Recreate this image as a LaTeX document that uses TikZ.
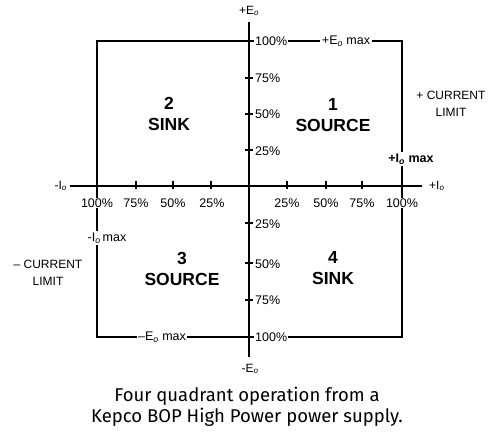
\documentclass[tikz,border=0pt]{standalone}
\usepackage{fontspec}
\setmainfont{Liberation Sans}
\newfontfamily\capfont{Fira Sans}
\usetikzlibrary{positioning}
\newcommand{\Eo}{E\textsubscript{\itshape o}}
\newcommand{\Io}{I\textsubscript{\itshape o}}
\tikzset{
  frame/.style={line width=2.8pt},
  axis/.style={line width=2.6pt},
  tickmark/.style={line width=1.4pt},
  pct/.style={font=\fontsize{12.5}{14}\selectfont, inner sep=1pt, fill=white},
  axlbl/.style={font=\fontsize{12}{14}\selectfont, inner sep=1pt},
  maxlbl/.style={font=\fontsize{12.5}{14}\selectfont, inner sep=1.5pt, fill=white},
  quad/.style={font=\fontsize{17.5}{21}\selectfont\bfseries, align=center},
  limit/.style={font=\fontsize{12}{17}\selectfont, align=center},
  caption/.style={font=\capfont\fontsize{18.5}{21}\selectfont, align=center},
}
\begin{document}
\begin{tikzpicture}[x=1pt,y=-1pt]
  \useasboundingbox (0,0) rectangle (491,448);
  % corners of the limit box
  \coordinate (tl) at (97,41);
  \coordinate (br) at (402,337);
  % axis ends
  \coordinate (ineg) at (70,186);
  \coordinate (ipos) at (422,186);
  \coordinate (epos) at (249,22);
  \coordinate (eneg) at (249,357);

  \draw[frame] (tl) rectangle (br);
  \draw[axis] (ineg) -- (ipos);
  \draw[axis] (epos) -- (eneg);

  % ticks
  \foreach \x in {136,173,211,287,326,362}
    \draw[tickmark] (\x,181) -- (\x,189);
  \foreach \y in {78,114,150,223,263,300}
    \draw[tickmark] (245,\y) -- (253,\y);

  % axis names
  \node[axlbl] (eplbl) at (249,11) {+\Eo};
  \node[axlbl] (enlbl) at (250,369) {-\Eo};
  \node[axlbl, left=2pt of ineg] (inlbl) {-\Io};
  \node[axlbl, right=6pt of ipos] (iplbl) {+\Io};

  % current percentages
  \node[pct] (il100) at (97,203) {100\%};
  \node[pct] (il75) at (136,203) {75\%};
  \node[pct] (il50) at (173,203) {50\%};
  \node[pct] (il25) at (212,203) {25\%};
  \node[pct] (ir25) at (287,203) {25\%};
  \node[pct] (ir50) at (326,203) {50\%};
  \node[pct] (ir75) at (362,203) {75\%};
  \node[pct] (ir100) at (402,203) {100\%};

  % voltage percentages
  \node[pct, anchor=west] (et100) at (254,41) {100\%};
  \node[pct, anchor=west] (et75) at (254,78) {75\%};
  \node[pct, anchor=west] (et50) at (254,114) {50\%};
  \node[pct, anchor=west] (et25) at (254,151) {25\%};
  \node[pct, anchor=west] (eb25) at (254,224) {25\%};
  \node[pct, anchor=west] (eb50) at (254,264) {50\%};
  \node[pct, anchor=west] (eb75) at (254,300) {75\%};
  \node[pct, anchor=west] (eb100) at (254,337) {100\%};

  % limits on the box
  \node[maxlbl] (emax) at (346,41) {+\Eo\ max};
  \node[maxlbl] (emin) at (162,337) {--\Eo\ max};
  \node[maxlbl] (imax) at (411,159) {\bfseries+\Io\ max};
  \node[maxlbl] (imin) at (107,238) {-\Io\,max};

  \node[limit] (plim) at (451,104) {+ CURRENT\\LIMIT};
  \node[limit] (nlim) at (48,273) {-- CURRENT\\LIMIT};

  % quadrants
  \node[quad] (q1) at (333,115) {1\\SOURCE};
  \node[quad] (q2) at (169,114) {2\\SINK};
  \node[quad] (q3) at (182,269) {3\\SOURCE};
  \node[quad] (q4) at (333,268) {4\\SINK};

  \node[caption] (cap) at (247,407) {Four quadrant operation from a\\Kepco BOP High Power power supply.};
\end{tikzpicture}
\end{document}
